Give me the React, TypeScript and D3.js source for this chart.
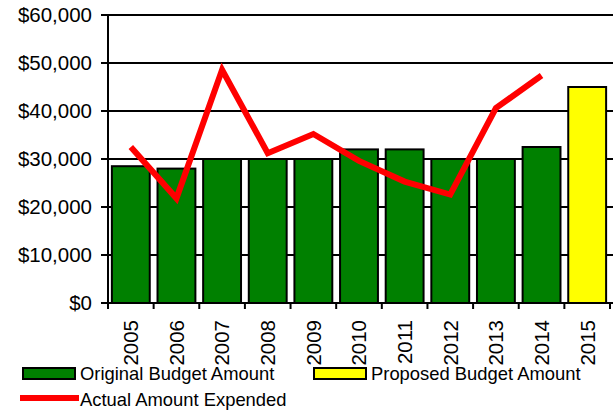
import React from "react";
import * as d3 from "d3";

const years = ["2005","2006","2007","2008","2009","2010","2011","2012","2013","2014","2015"];
const originalBudget = [28500, 28000, 30000, 30000, 30000, 32000, 32000, 30000, 30000, 32500, null];
const proposedBudget = [null, null, null, null, null, null, null, null, null, null, 45000];
const actualExpended = [32500, 21800, 48600, 31200, 35200, 29600, 25300, 22600, 40600, 47400, null];
const yTicks = [0, 10000, 20000, 30000, 40000, 50000, 60000];

const W = 613, H = 413;
const left = 108, right = 610, top = 15, bottom = 303;
const FONT = "'Liberation Sans', Arial, sans-serif";

export default function App() {
  const x = d3.scaleBand<string>().domain(years).range([left, right]).paddingInner(0.17).paddingOuter(0.085);
  const y = d3.scaleLinear().domain([0, 60000]).range([bottom, top]);
  const fmt = d3.format("$,");
  const lineData = years.map((yr, i) => ({ yr, v: actualExpended[i] })).filter(d => d.v != null) as { yr: string; v: number }[];
  const line = d3.line<{ yr: string; v: number }>()
    .x(d => (x(d.yr) as number) + x.bandwidth() / 2)
    .y(d => y(d.v));
  const step = x.step();
  const boundaries = d3.range(years.length + 1).map(i => left + i * step);

  return (
    <svg width={W} height={H} style={{ position: "absolute", left: 0, top: 0 }}>
      <rect x={0} y={0} width={W} height={H} fill="#fff" />
      {yTicks.map(t => (
        <g key={t}>
          {t > 0 && <line x1={101} x2={W} y1={y(t)} y2={y(t)} stroke="#000" strokeWidth={2} />}
          <line x1={101} x2={left} y1={y(t)} y2={y(t)} stroke="#000" strokeWidth={2} />
          <text x={92} y={y(t)} dy="0.36em" textAnchor="end" fontFamily={FONT} fontSize={20.5} fill="#000">{fmt(t)}</text>
        </g>
      ))}
      {years.map((yr, i) => {
        const v = originalBudget[i] ?? proposedBudget[i];
        if (v == null) return null;
        const fill = originalBudget[i] != null ? "#008000" : "#ffff00";
        return (
          <rect key={yr} x={x(yr) as number} y={y(v)} width={x.bandwidth()} height={bottom - y(v)}
            fill={fill} stroke="#000" strokeWidth={2} />
        );
      })}
      <line x1={left} x2={left} y1={top} y2={bottom + 1} stroke="#000" strokeWidth={2} />
      <line x1={left - 1} x2={W} y1={bottom} y2={bottom} stroke="#000" strokeWidth={2} />
      {boundaries.map((b, i) => (
        <line key={i} x1={b} x2={b} y1={bottom} y2={bottom + 6} stroke="#000" strokeWidth={2} />
      ))}
      {years.map(yr => {
        const cx = (x(yr) as number) + x.bandwidth() / 2;
        return (
          <text key={yr} transform={`translate(${cx},${320}) rotate(-90)`} dy="0.36em" textAnchor="end"
            fontFamily={FONT} fontSize={20.5} fill="#000">{yr}</text>
        );
      })}
      <path d={line(lineData) || ""} fill="none" stroke="#ff0000" strokeWidth={6} strokeLinejoin="miter" strokeMiterlimit={10} />
      <rect x={23} y={368} width={52} height={11} fill="#008000" stroke="#000" strokeWidth={2} />
      <text x={80} y={380} fontFamily={FONT} fontSize={18.4} fill="#000">Original Budget Amount</text>
      <rect x={314} y={368} width={52} height={11} fill="#ffff00" stroke="#000" strokeWidth={2} />
      <text x={371} y={380} fontFamily={FONT} fontSize={18.4} fill="#000">Proposed Budget Amount</text>
      <line x1={20} x2={79} y1={398} y2={398} stroke="#ff0000" strokeWidth={6} />
      <text x={80} y={406} fontFamily={FONT} fontSize={18.4} fill="#000">Actual Amount Expended</text>
    </svg>
  );
}
